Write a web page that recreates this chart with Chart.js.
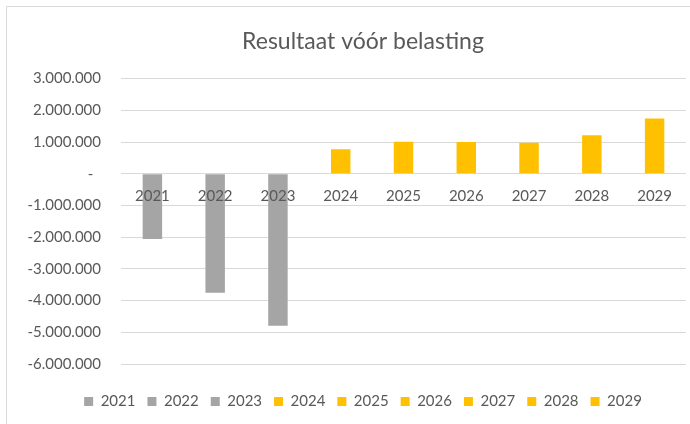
<!DOCTYPE html>
<html>
<head>
<meta charset="utf-8">
<script src="https://cdn.jsdelivr.net/npm/chart.js@4"></script>
<style>
  body { margin: 0; background: #fff; overflow: hidden; }
  canvas { display: block; }
</style>
</head>
<body>
<canvas id="myChart" width="726" height="424"></canvas>
<script>
var years = ['2021', '2022', '2023', '2024', '2025', '2026', '2027', '2028', '2029'];
var resultaat = [-2060000, -3750000, -4790000, 770000, 1010000, 1000000, 980000, 1210000, 1740000];
var barColors = ['#A5A5A5', '#A5A5A5', '#A5A5A5', '#FFC000', '#FFC000', '#FFC000', '#FFC000', '#FFC000', '#FFC000'];
var yMin = -6000000;
var yMax = 3000000;
var yStep = 1000000;

var textColor = '#595959';
var gridColor = '#D9D9D9';

Chart.defaults.font.family = 'Lato';
Chart.defaults.color = textColor;

// accounting style: dots as thousands separator, zero shown as a dash
function formatEuro(v) {
    if (v === 0) return '-  ';
    var s = Math.abs(v).toString().replace(/\B(?=(\d{3})+(?!\d))/g, '.');
    return (v < 0 ? '-' : '') + s;
}

// light frame round the chart, like the Excel chart border
var frame = {
    id: 'frame',
    beforeDraw: function (chart) {
        var c = chart.ctx;
        c.save();
        c.fillStyle = '#fff';
        c.fillRect(0, 0, chart.width, chart.height);
        c.strokeStyle = gridColor;
        c.lineWidth = 1;
        c.beginPath();
        c.moveTo(6.5, chart.height);
        c.lineTo(6.5, 6.5);
        c.lineTo(chart.width, 6.5);
        c.stroke();
        c.restore();
    }
};

var ctx = document.getElementById('myChart').getContext('2d');
var myChart = new Chart(ctx, {
    type: 'bar',
    data: {
        labels: years,
        datasets: [{
            label: 'Resultaat',
            data: resultaat,
            backgroundColor: barColors,
            barPercentage: 0.31,
            categoryPercentage: 1
        }]
    },
    options: {
        responsive: false,
        animation: false,
        layout: {
            padding: { left: 0, right: 0, top: 0, bottom: 5 }
        },
        plugins: {
            title: {
                display: true,
                text: 'Resultaat vóór belasting',
                color: textColor,
                font: { size: 23, weight: 'normal' },
                padding: { top: 28, bottom: 23 }
            },
            legend: {
                position: 'bottom',
                onClick: null,
                title: {
                    display: true,
                    text: '',
                    font: { size: 10 },
                    padding: { top: 6, bottom: 0 }
                },
                labels: {
                    boxWidth: 9,
                    boxHeight: 9,
                    padding: 12,
                    color: textColor,
                    font: { size: 15 },
                    generateLabels: function () {
                        return years.map(function (y, i) {
                            return {
                                text: y,
                                fillStyle: barColors[i],
                                strokeStyle: barColors[i],
                                lineWidth: 0,
                                index: i
                            };
                        });
                    }
                }
            },
            tooltip: { enabled: false }
        },
        scales: {
            x: {
                position: { y: 0 },
                grid: { display: false, drawTicks: false },
                border: { display: false },
                ticks: {
                    z: 1,
                    color: textColor,
                    font: { size: 15 },
                    padding: 13,
                    maxRotation: 0
                }
            },
            y: {
                min: yMin,
                max: yMax,
                grid: { color: gridColor, drawTicks: false },
                border: { display: false },
                ticks: {
                    stepSize: yStep,
                    color: textColor,
                    font: { size: 15 },
                    padding: 20,
                    callback: function (v) { return formatEuro(v); }
                },
                afterFit: function (scale) { scale.width = 121; }
            },
            // empty right margin so title and legend centre like the original
            yRight: {
                position: 'right',
                grid: { display: false, drawTicks: false },
                border: { display: false },
                ticks: { display: false },
                afterFit: function (scale) { scale.width = 40; }
            }
        }
    },
    plugins: [frame]
});
</script>
</body>
</html>
